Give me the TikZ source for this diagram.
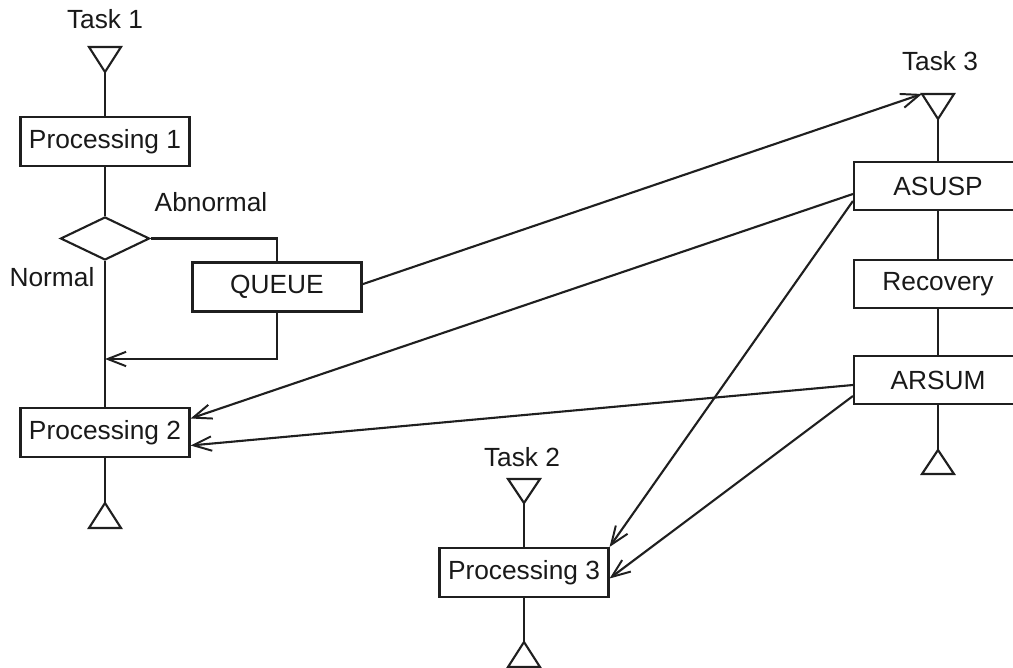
\documentclass[tikz,border=0pt]{standalone}
\usepackage{fontspec}
\setmainfont{Liberation Sans}
\usetikzlibrary{arrows.meta,shapes.geometric}
\begin{document}
\begin{tikzpicture}[x=0.025cm,y=-0.025cm,
  ink/.style={draw=black!88,line width=1.5pt},
  every node/.style={font=\fontsize{18.7}{22}\selectfont,text=black!90},
  box/.style={ink,rectangle,inner sep=0pt,minimum width=4.225cm,minimum height=1.225cm},
  rbox/.style={ink,rectangle,inner sep=0pt,minimum width=4.2cm,minimum height=1.2cm},
  lbl/.style={anchor=base,inner sep=0pt},
  flow/.style={ink},
  msg/.style={ink,-{Straight Barb[length=4.6mm,width=3.6mm,line width=1.4pt]}},
  tri/.style={ink,line join=miter}]
\useasboundingbox (0,0) rectangle (1013,668);
\clip (0,0) rectangle (1013,668);

% Task 1
\node[lbl] (t1) at (105,29) {Task 1};
\coordinate (t1in) at (105,72);
\draw[tri] (t1in) -- ++(-16,-25) -- ++(32,0) -- cycle;
\node[box] (p1) at (105,141.5) {Processing 1};
\node[ink,diamond,aspect=2.07,inner sep=0pt,minimum width=2.225cm,minimum height=1.075cm] (d) at (105,238.5) {};
\node[lbl] (ab) at (211,212) {Abnormal};
\node[lbl] (no) at (52,287) {Normal};
\node[box] (q) at (277,287) {QUEUE};
\coordinate (join) at (105,359);
\node[box] (p2) at (105,432.5) {Processing 2};
\coordinate (t1out) at (105,503);
\draw[tri] (t1out) -- ++(-16,25) -- ++(32,0) -- cycle;

\draw[flow] (t1in) -- (p1.north);
\draw[flow] (p1.south) -- (d.north);
\draw[flow] (d.east) -| (q.north);
\draw[msg] (q.south) |- (join);
\draw[flow] (d.south) -- (p2.north);
\draw[flow] (p2.south) -- (t1out);

% Task 3
\node[lbl] (t3) at (940,71) {Task 3};
\coordinate (t3in) at (938,119);
\coordinate (t3corner) at (922,94);
\draw[tri] (t3in) -- ++(-16,-25) -- ++(32,0) -- cycle;
\node[rbox] (a) at (938,186) {ASUSP};
\node[rbox] (r) at (938,284) {Recovery};
\node[rbox] (s) at (938,380) {ARSUM};
\coordinate (t3out) at (938,450);
\draw[tri] (t3out) -- ++(-16,24) -- ++(32,0) -- cycle;

\draw[flow] (t3in) -- (a.north);
\draw[flow] (a.south) -- (r.north);
\draw[flow] (r.south) -- (s.north);
\draw[flow] (s.south) -- (t3out);

% Task 2
\node[lbl] (t2) at (522,467) {Task 2};
\coordinate (t2in) at (524,503);
\draw[tri] (t2in) -- ++(-16,-24) -- ++(32,0) -- cycle;
\node[box] (p3) at (524,572.5) {Processing 3};
\coordinate (t2out) at (524,642);
\draw[tri] (t2out) -- ++(-16,25) -- ++(32,0) -- cycle;
\draw[flow] (t2in) -- (p3.north);
\draw[flow] (p3.south) -- (t2out);

% messages between tasks
\draw[msg] ([yshift=0.07cm]q.east) -- (t3corner);
\draw[msg] ([yshift=-0.2cm]a.west) -- ([yshift=0.35cm]p2.east);
\draw[msg] ([yshift=-0.375cm]a.west) -- (p3.north east);
\draw[msg] ([yshift=-0.125cm]s.west) -- ([yshift=-0.325cm]p2.east);
\draw[msg] ([yshift=-0.4cm]s.west) -- ([yshift=-0.15cm]p3.east);
\end{tikzpicture}
\end{document}
